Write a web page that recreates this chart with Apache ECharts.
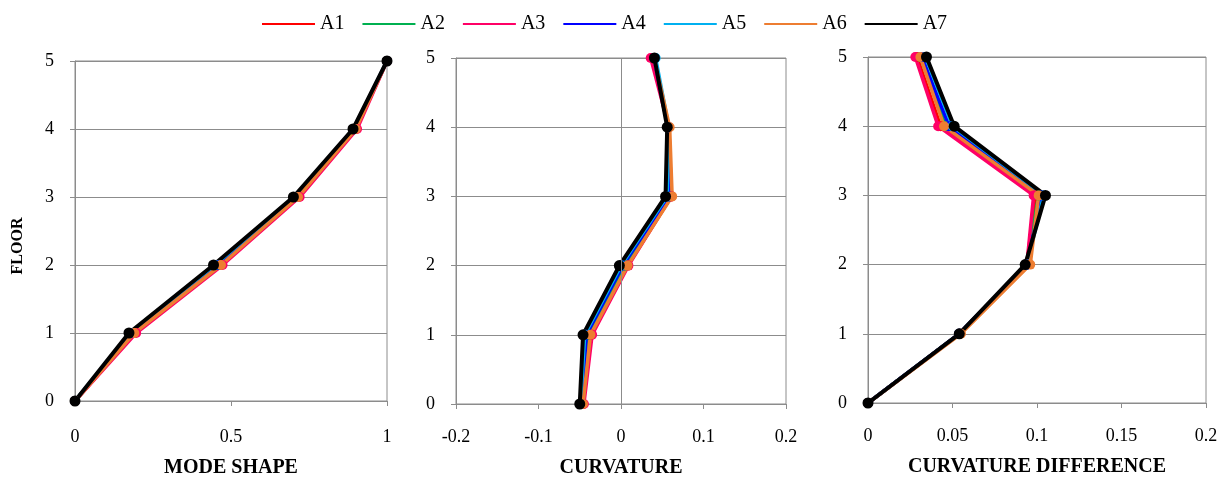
<!DOCTYPE html>
<html>
<head>
<meta charset="utf-8">
<script src="https://cdn.jsdelivr.net/npm/echarts@6/dist/echarts.min.js"></script>
<style>
	html, body { margin: 0; padding: 0; background: #fff; }
	#main { width: 1231px; height: 483px; }
</style>
</head>
<body>
<div id="main"></div>
<script>
var floors = [0, 1, 2, 3, 4, 5];
var names = ['A1', 'A2', 'A3', 'A4', 'A5', 'A6', 'A7'];
var colors = ['#ff0000', '#00b050', '#ff0066', '#0000ff', '#00b0f0', '#ed7d31', '#000000'];

// mode shape, one row per A1..A7, floor 0..5
var modeShape = [
	[0, 0.190, 0.466, 0.714, 0.900, 1],
	[0, 0.186, 0.462, 0.711, 0.898, 1],
	[0, 0.196, 0.473, 0.720, 0.904, 1],
	[0, 0.180, 0.455, 0.706, 0.895, 1],
	[0, 0.176, 0.449, 0.703, 0.893, 1],
	[0, 0.190, 0.468, 0.715, 0.900, 1],
	[0, 0.173, 0.444, 0.700, 0.891, 1]
];
// curvature
var curvature = [
	[-0.046, -0.036, 0.008, 0.061, 0.058, 0.038],
	[-0.047, -0.039, 0.005, 0.059, 0.057, 0.039],
	[-0.045, -0.035, 0.009, 0.061, 0.058, 0.036],
	[-0.048, -0.042, 0.002, 0.058, 0.057, 0.040],
	[-0.049, -0.044, 0.000, 0.056, 0.058, 0.042],
	[-0.046, -0.037, 0.008, 0.062, 0.059, 0.040],
	[-0.050, -0.046, -0.002, 0.054, 0.056, 0.0405]
];
// curvature difference
var curvDiff = [
	[0, 0.054, 0.094, 0.099, 0.043, 0.029],
	[0, 0.054, 0.094, 0.101, 0.046, 0.031],
	[0, 0.054, 0.094, 0.098, 0.0415, 0.028],
	[0, 0.054, 0.094, 0.103, 0.048, 0.032],
	[0, 0.054, 0.094, 0.104, 0.050, 0.034],
	[0, 0.055, 0.096, 0.101, 0.045, 0.031],
	[0, 0.054, 0.093, 0.105, 0.051, 0.0346]
];

var xTitles = ['MODE SHAPE', 'CURVATURE', 'CURVATURE DIFFERENCE'];
var xMin = [0, -0.2, 0];
var xMax = [1, 0.2, 0.2];
var xStep = [0.5, 0.1, 0.05];

var serif = 'Liberation Serif, Times New Roman, serif';
var gridColor = '#8c8c8c';

var chart = echarts.init(document.getElementById('main'));

var grids = [
	{ left: 75, top: 61, width: 312, height: 340 },
	{ left: 456, top: 58, width: 330, height: 346 },
	{ left: 868, top: 57, width: 338, height: 346 }
];
grids.forEach(function (g) {
	g.show = true;
	g.borderColor = gridColor;
	g.borderWidth = 1;
	g.containLabel = false;
});

var xAxes = [], yAxes = [], series = [];
var panels = [modeShape, curvature, curvDiff];

for (var p = 0; p < 3; p++) {
	xAxes.push({
		type: 'value', gridIndex: p,
		min: xMin[p], max: xMax[p], interval: xStep[p],
		name: xTitles[p], nameLocation: 'middle', nameGap: p == 0 ? 57 : 54,
		nameTextStyle: { fontFamily: serif, fontWeight: 'bold', fontSize: 20, color: '#000' },
		axisLine: { show: true, onZero: false, lineStyle: { color: gridColor, width: 1 } },
		axisTick: { show: true, length: 5, lineStyle: { color: gridColor } },
		axisLabel: { margin: p == 0 ? 27 : 24, fontFamily: serif, fontSize: 18, color: '#000' },
		splitLine: { show: false }
	});
	yAxes.push({
		type: 'value', gridIndex: p,
		min: 0, max: 5, interval: 1,
		name: p == 0 ? 'FLOOR' : '', nameLocation: 'middle', nameGap: 49, nameRotate: 90,
		nameTextStyle: { fontFamily: serif, fontWeight: 'bold', fontSize: 16, color: '#000', padding: [0, 30, 0, 0] },
		axisLine: { show: true, onZero: false, lineStyle: { color: gridColor, width: 1 } },
		axisTick: { show: true, length: 5, lineStyle: { color: gridColor } },
		axisLabel: { margin: 21, fontFamily: serif, fontSize: 18, color: '#000' },
		splitLine: { show: true, lineStyle: { color: gridColor, width: 1 } }
	});
	for (var s = 0; s < names.length; s++) {
		var pts = [];
		for (var f = 0; f < floors.length; f++) {
			pts.push([panels[p][s][f], floors[f]]);
		}
		series.push({
			name: names[s], type: 'line',
			xAxisIndex: p, yAxisIndex: p,
			data: pts,
			symbol: 'circle', symbolSize: s == 6 ? 11 : 10,
			lineStyle: { width: s == 6 ? 4 : 3.5, color: colors[s] },
			itemStyle: { color: colors[s] },
			animation: false
		});
	}
}

// vertical line at zero in the curvature panel
series.push({
	name: 'zero', type: 'line', xAxisIndex: 1, yAxisIndex: 1, z: 1,
	data: [], silent: true, animation: false,
	markLine: {
		silent: true, symbol: 'none', label: { show: false },
		lineStyle: { color: gridColor, width: 1, type: 'solid' },
		data: [{ xAxis: 0 }]
	}
});

var option = {
	backgroundColor: '#fff',
	animation: false,
	legend: {
		data: names.map(function (n) { return { name: n, icon: 'rect' }; }),
		left: 257, top: 9,
		itemWidth: 53, itemHeight: 2, itemGap: 18,
		textStyle: { fontFamily: serif, fontSize: 20, color: '#000' }
	},
	grid: grids,
	xAxis: xAxes,
	yAxis: yAxes,
	series: series
};
chart.setOption(option);
</script>
</body>
</html>
